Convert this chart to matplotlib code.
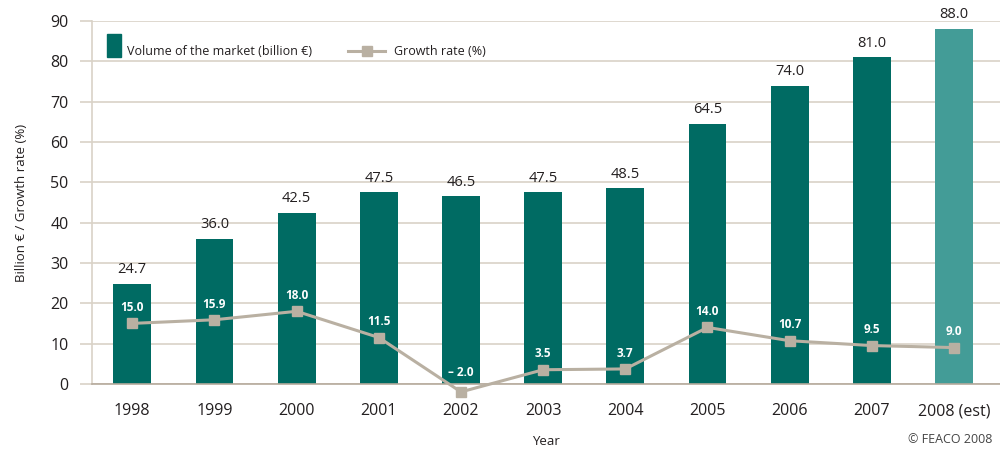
import matplotlib.pyplot as plt
from matplotlib.patches import Rectangle
from matplotlib.lines import Line2D
import numpy as np

plt.rcParams['font.family'] = ['Open Sans', 'DejaVu Sans']

years = ['1998', '1999', '2000', '2001', '2002', '2003', '2004', '2005', '2006', '2007', '2008 (est)']
volume = [24.7, 36.0, 42.5, 47.5, 46.5, 47.5, 48.5, 64.5, 74.0, 81.0, 88.0]
growth = [15.0, 15.9, 18.0, 11.5, -2.0, 3.5, 3.7, 14.0, 10.7, 9.5, 9.0]

teal = '#006b63'
teal_est = '#439c97'
beige = '#b9b0a2'
grid_c = '#d9d2c7'
text_c = '#231f20'

fig = plt.figure(figsize=(10, 4.5), dpi=100)
ax = fig.add_axes([0.092, 0.147, 0.908, 0.806])

x = np.arange(len(years))
colors = [teal] * (len(years) - 1) + [teal_est]
ax.bar(x, volume, width=0.46, color=colors, zorder=2)

ax.plot(x, growth, color=beige, lw=2.2, marker='s', ms=7, mfc=beige, mec=beige,
        zorder=3, clip_on=False)

for xi, v in zip(x, volume):
    ax.text(xi, v + 1.7, f'{v:.1f}', ha='center', va='bottom', fontsize=10.5, color=text_c)

for xi, g in zip(x, growth):
    lbl = f'{g:.1f}' if g >= 0 else f'\u2013 {abs(g):.1f}'
    ypos = g + 2.3 if g >= 0 else 1.2
    ax.text(xi, ypos, lbl, ha='center', va='bottom', fontsize=8.5, color='white',
            fontweight='bold', zorder=4)

ax.set_xlim(-0.49, len(years) - 0.44)
ax.set_ylim(0, 90)
ax.set_yticks(range(0, 91, 10))
ax.set_xticks(x)
ax.set_xticklabels(years)
ax.yaxis.grid(True, color=grid_c, lw=1.2, zorder=0)
ax.tick_params(axis='y', length=9, color=grid_c, width=1.2, labelsize=11.5,
               labelcolor=text_c, pad=8)
ax.tick_params(axis='x', length=0, labelsize=11.5, labelcolor=text_c, pad=14)
for s in ['top', 'right']:
    ax.spines[s].set_visible(False)
ax.spines['left'].set_color(grid_c)
ax.spines['left'].set_linewidth(1.2)
ax.spines['bottom'].set_color('#b5aa9c')
ax.spines['bottom'].set_linewidth(1.2)

ax.set_xlabel('Year', fontsize=9.5, color=text_c, labelpad=11)
ax.set_ylabel('Billion \u20ac / Growth rate (%)', fontsize=9.5, color=text_c, labelpad=16)

# legend drawn by hand so the bar swatch can be narrower than the line sample
leg_y = 0.917
ax.add_patch(Rectangle((0.0165, 0.901), 0.0154, 0.063, transform=ax.transAxes,
                       color=teal, clip_on=False))
ax.text(0.039, leg_y, 'Volume of the market (billion \u20ac)', transform=ax.transAxes,
        fontsize=9, color=text_c, va='center')
ax.add_line(Line2D([0.282, 0.323], [leg_y, leg_y], transform=ax.transAxes,
                   color=beige, lw=2.2))
ax.plot([0.3025], [leg_y], transform=ax.transAxes, marker='s', ms=7, color=beige)
ax.text(0.333, leg_y, 'Growth rate (%)', transform=ax.transAxes,
        fontsize=9, color=text_c, va='center')

fig.text(0.992, 0.008, '\u00a9 FEACO 2008', ha='right', va='bottom', fontsize=9,
         color='#444444')

fig.savefig('out.png', dpi=100)
